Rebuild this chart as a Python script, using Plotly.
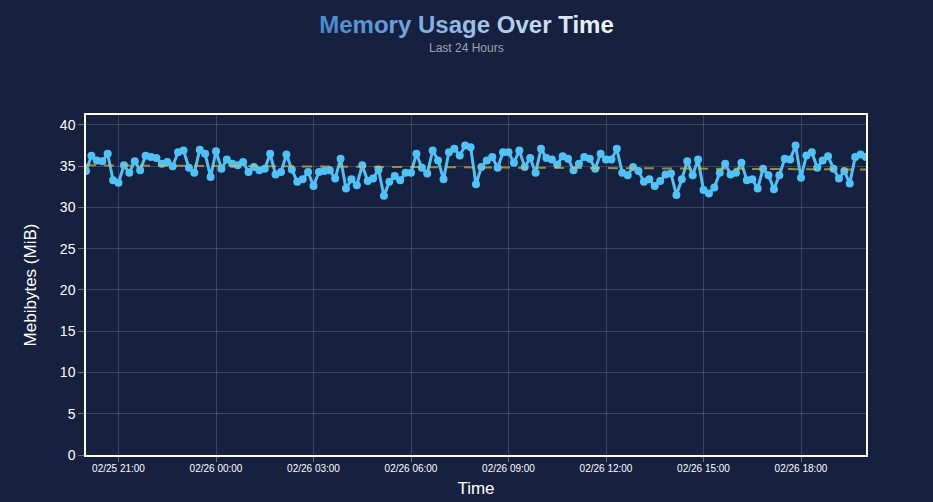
import numpy as np
import pandas as pd
import plotly.graph_objects as go

# memory samples, one every 10 minutes over the last 24 hours
start_time = "2025-02-25 20:00"
memory_mib = [
    34.4, 36.25, 35.7, 35.6, 36.5, 33.3, 33.0, 35.1, 34.2, 35.6,
    34.5, 36.25, 36.1, 36.0, 35.3, 35.5, 35.0, 36.7, 36.9, 34.8,
    34.2, 37.0, 36.5, 33.7, 36.8, 34.7, 35.8, 35.3, 35.1, 35.5,
    34.3, 34.9, 34.5, 34.7, 36.5, 34.0, 34.3, 36.4, 34.6, 33.1,
    33.4, 34.3, 32.6, 34.3, 34.4, 34.5, 33.5, 35.9, 32.3, 33.4,
    32.7, 35.1, 33.2, 33.5, 34.6, 31.4, 33.1, 33.8, 33.3, 34.2,
    34.2, 36.5, 34.8, 34.1, 36.9, 35.7, 33.4, 36.7, 37.1, 36.3,
    37.5, 37.3, 32.8, 34.9, 35.7, 36.1, 34.8, 36.7, 36.7, 35.4,
    36.9, 34.9, 36.0, 34.2, 37.1, 36.0, 35.8, 35.2, 36.2, 35.9,
    34.5, 35.3, 36.1, 35.9, 34.7, 36.5, 35.8, 35.8, 37.1, 34.2,
    33.9, 34.9, 34.4, 33.1, 33.4, 32.6, 33.2, 34.0, 34.1, 31.5,
    33.4, 35.6, 33.9, 35.8, 32.1, 31.7, 32.4, 34.2, 35.3, 34.0,
    34.2, 35.4, 33.3, 33.4, 32.3, 34.7, 33.9, 32.2, 33.9, 35.9,
    35.8, 37.5, 33.6, 36.3, 36.7, 34.8, 35.7, 36.2, 34.7, 33.5,
    34.4, 32.9, 36.1, 36.4, 36.1,
]
y_ticks = [0, 5, 10, 15, 20, 25, 30, 35, 40]

times = pd.date_range(start_time, periods=len(memory_mib), freq="10min")

# linear trend over the samples
t_hours = np.arange(len(memory_mib)) / 6.0
slope, intercept = np.polyfit(t_hours, memory_mib, 1)
trend = intercept + slope * t_hours

bg = "#16203f"
grid = "rgba(255,255,255,0.16)"

# gradient title, blue to white
title_text = "Memory Usage Over Time"
c0 = np.array([74, 140, 210])
c1 = np.array([242, 246, 252])
spans = []
for k, ch in enumerate(title_text):
    f = k / (len(title_text) - 1)
    r, g, b = (c0 + (c1 - c0) * f).astype(int)
    spans.append(f'<span style="color:rgb({r},{g},{b})">{ch}</span>')
title_html = "".join(spans)

fig = go.Figure()

fig.add_trace(go.Scatter(
    x=times,
    y=memory_mib,
    mode='lines+markers',
    name='Memory',
    line=dict(color='#4fc3f7', width=3),
    marker=dict(color='#4fc3f7', size=8),
))

fig.add_trace(go.Scatter(
    x=times,
    y=trend,
    mode='lines',
    name='Trend',
    line=dict(color='rgba(212,188,62,0.68)', width=2, dash='10px,8px'),
))

# subtitle, centred on the page rather than the plot area
fig.add_annotation(
    text="Last 24 Hours",
    xref="paper", yref="paper",
    x=(466.5 - 86) / 780, y=1.0, xanchor="center", yanchor="middle",
    yshift=67,
    showarrow=False,
    font=dict(size=12, color="#9aa3b5"),
)

fig.update_layout(
    width=933,
    height=502,
    paper_bgcolor=bg,
    plot_bgcolor=bg,
    showlegend=False,
    margin=dict(l=86, r=67, t=115, b=47),
    font=dict(family="Liberation Sans, Arial", color="#ffffff"),
    title=dict(
        text=title_html,
        xref="container", yref="container",
        x=0.5, xanchor="center",
        y=0.951, yanchor="middle",
        font=dict(size=24, weight="bold"),
    ),
    xaxis=dict(
        title=dict(text="Time", font=dict(size=17), standoff=9),
        automargin=False,
        type='date',
        range=[times[0], times[-1]],
        tickformat="%m/%d %H:%M",
        tick0="2025-02-25 21:00",
        dtick=3 * 3600 * 1000,
        tickfont=dict(size=10),
        ticks="outside", ticklen=5, tickcolor="rgba(255,255,255,0.35)",
        ticklabelstandoff=-2,
        showgrid=True, gridcolor=grid,
        showline=True, linecolor="#ffffff", linewidth=1.5, mirror=True,
        zeroline=False,
    ),
    yaxis=dict(
        title=dict(text="Mebibytes (MiB)", font=dict(size=17), standoff=19),
        automargin=False,
        range=[0, 41.2],
        tickvals=y_ticks,
        tickfont=dict(size=14),
        ticks="outside", ticklen=6, tickcolor="rgba(255,255,255,0.35)",
        showgrid=True, gridcolor=grid,
        showline=True, linecolor="#ffffff", linewidth=1.5, mirror=True,
        zeroline=False,
    ),
)

# drop the default page margin so the figure fills the window
fig.write_html(
    "out.html",
    config={"displayModeBar": False},
    post_script="document.body.style.margin='0';document.body.style.overflow='hidden';",
)
